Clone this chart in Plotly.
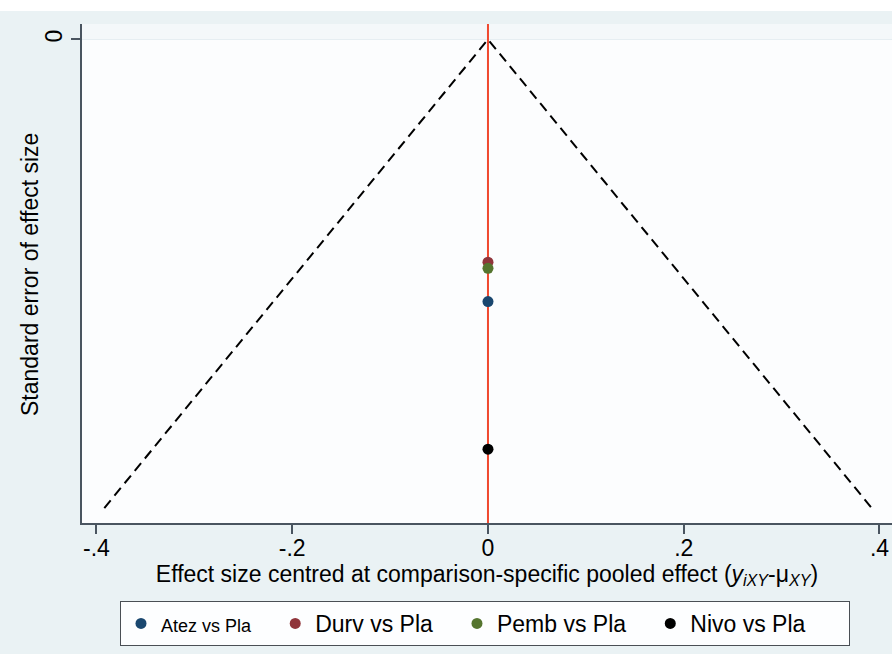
import plotly.graph_objects as go

# ---- data ----
series_names = ["Atez vs Pla", "Durv vs Pla", "Pemb vs Pla", "Nivo vs Pla"]
series_colors = ["#1a476f", "#90353b", "#55752f", "#000000"]
effect_centred = [0.0, 0.0, 0.0, 0.0]
std_error = [0.1119, 0.0951, 0.0977, 0.1749]
funnel_z = 1.96
se_max = 0.2
x_ticks = [-0.4, -0.2, 0.0, 0.2, 0.4]
x_ticklabels = ["-.4", "-.2", "0", ".2", ".4"]
y_ticks = [0.0]
y_ticklabels = ["0"]

X_RANGE = [-0.4148, 0.4128]
Y_RANGE = [0.2064, -0.0066]

FONT = "Liberation Sans, Arial, Helvetica, sans-serif"
FS = 23

fig = go.Figure()

# reference line at pooled effect
fig.add_trace(go.Scatter(
    x=[0, 0], y=[Y_RANGE[1], Y_RANGE[0]], mode="lines",
    line=dict(color="#f0492f", width=2), showlegend=False, hoverinfo="skip"))

# funnel (pseudo 95% CI)
fig.add_trace(go.Scatter(
    x=[-funnel_z * se_max, 0, funnel_z * se_max], y=[se_max, 0, se_max],
    mode="lines", line=dict(color="black", width=2, dash="10px,6px"),
    showlegend=False, hoverinfo="skip"))

label_sizes = [18, 23, 23, 23]
pads = ["\u00a0" * 3, "\u00a0" * 3, "\u00a0" * 3, "\u00a0" * 6]
for name, col, xv, yv, fs, pad in zip(series_names, series_colors, effect_centred,
                                      std_error, label_sizes, pads):
    fig.add_trace(go.Scatter(
        x=[xv], y=[yv], mode="markers",
        marker=dict(color=col, size=11),
        name=f'<span style="font-size:{fs}px">{name}</span>{pad}'))

fig.update_layout(
    width=892, height=654,
    margin=dict(l=82, r=0, t=24, b=131),
    paper_bgcolor="#eaf2f4",
    plot_bgcolor="#fcfdfe",
    font=dict(family=FONT, size=FS, color="black"),
    showlegend=True,
    legend=dict(
        orientation="h", xref="container", x=485 / 892, xanchor="center",
        yref="container", y=1 - 623.5 / 654, yanchor="middle",
        bgcolor="#fdfeff", bordercolor="#4a4f55", borderwidth=1,
        font=dict(size=FS, family=FONT), itemwidth=30,
    ),
    xaxis=dict(
        range=X_RANGE, tickvals=x_ticks, ticktext=x_ticklabels, automargin=False,
        showgrid=False, zeroline=False, showline=True, linecolor="#4a5560",
        linewidth=2, ticks="outside", ticklen=9, tickwidth=1.5, tickcolor="#4a5560",
        tickfont=dict(size=FS), ticklabelstandoff=-6, title=dict(
            text="Effect size centred at comparison-specific pooled effect "
                 "(<i>y</i><sub><i>iXY</i></sub>-μ<sub><i>XY</i></sub>)",
            font=dict(size=FS), standoff=4),
    ),
    yaxis=dict(
        range=Y_RANGE, tickvals=y_ticks, ticktext=y_ticklabels, automargin=False,
        showgrid=True, gridcolor="#e6eef2", gridwidth=1, zeroline=False,
        showline=True, linecolor="#4a5560", linewidth=2,
        ticks="outside", ticklen=9, tickwidth=1.5, tickcolor="#4a5560",
        tickfont=dict(size=FS), tickangle=-90, ticklabelstandoff=0,
    ),
    annotations=[
        dict(text="Standard error of effect size", xref="paper", yref="paper",
             x=(30 - 82) / 810, y=0.497, xanchor="center", yanchor="middle",
             textangle=-90, showarrow=False, font=dict(size=FS)),
    ],
    shapes=[
        dict(type="rect", xref="paper", yref="paper", x0=-0.2, x1=1.1,
             y0=1 + 13 / 499, y1=1.2, fillcolor="white", line=dict(width=0),
             layer="below"),
        dict(type="rect", xref="paper", yref="y", x0=0, x1=1,
             y0=Y_RANGE[1], y1=0, fillcolor="#f4f8fa", line=dict(width=0),
             layer="below"),
    ],
)

fig.write_html("out.html", config={"displayModeBar": False},
               post_script="document.body.style.margin='0';")
